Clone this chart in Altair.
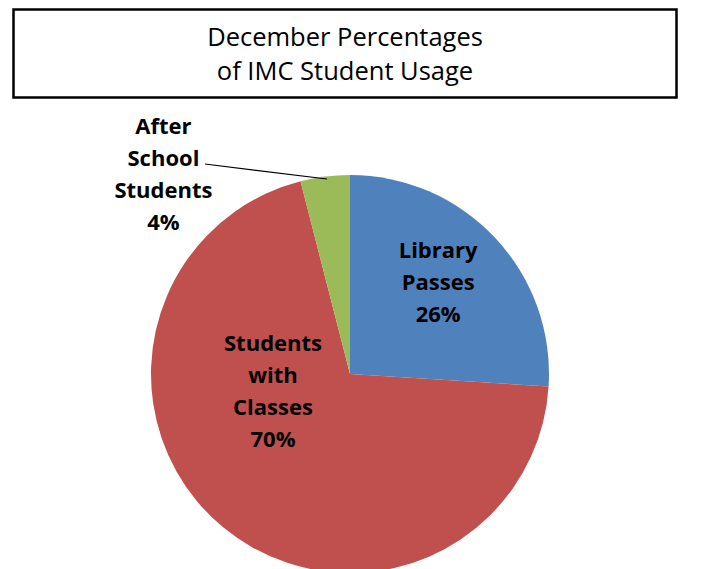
import altair as alt
import pandas as pd

categories = ["Library Passes", "Students with Classes", "After School Students"]
percents = [26, 70, 4]
colors = ["#4F81BD", "#C0504D", "#9BBB59"]
title_lines = ["December Percentages", "of IMC Student Usage"]

df = pd.DataFrame({
    "category": categories,
    "value": percents,
    "idx": list(range(len(categories))),
    "text": [c.replace(" ", "\n") + "\n" + f"{p}%" for c, p in zip(categories, percents)],
})

CX, CY, R = 342, 366, 199
FONT = "Open Sans"

base = alt.Chart(df)

arc = base.mark_arc(radius=R).encode(
    theta=alt.Theta("value:Q", stack=True),
    color=alt.Color("category:N", scale=alt.Scale(domain=categories, range=colors), legend=None),
    order=alt.Order("idx:Q"),
    x=alt.value(CX),
    y=alt.value(CY),
)

def label_layer(cat, radius, dx, dy):
    return base.mark_text(
        radius=radius, dx=dx, dy=dy, lineBreak="\n", font=FONT, fontSize=22,
        fontWeight="bold", lineHeight=32, align="center", baseline="middle", color="black",
    ).encode(
        theta=alt.Theta("value:Q", stack=True),
        order=alt.Order("idx:Q"),
        text="text:N",
        x=alt.value(CX),
        y=alt.value(CY),
        opacity=alt.condition(alt.datum.category == cat, alt.value(1), alt.value(0)),
    )

lab1 = label_layer(categories[0], 125, -3, -37)
lab2 = label_layer(categories[1], 80, -26, -92)
lab3 = label_layer(categories[2], 220, -159, -29)

leader = alt.Chart(df.head(1)).mark_rule(color="black", strokeWidth=1.2).encode(
    x=alt.value(197), y=alt.value(156), x2=alt.value(319), y2=alt.value(171)
)

box = alt.Chart(df.head(1)).mark_rect(fill="white", stroke="black", strokeWidth=2.5).encode(
    x=alt.value(5.5), x2=alt.value(668.5), y=alt.value(1.5), y2=alt.value(89.5)
)

title_df = pd.DataFrame({"t": ["\n".join(title_lines)]})
title = alt.Chart(title_df).mark_text(
    lineBreak="\n", font=FONT, fontSize=25.5, lineHeight=34, align="center", baseline="middle", color="black"
).encode(text="t:N", x=alt.value(337), y=alt.value(30))

chart = alt.layer(box, title, arc, leader, lab1, lab2, lab3).properties(
    width=688, height=561, autosize=alt.AutoSizeParams(type="none"), padding=0
).configure_view(stroke=None)

chart.save("out.html", embed_options={"renderer": "svg", "actions": False})
